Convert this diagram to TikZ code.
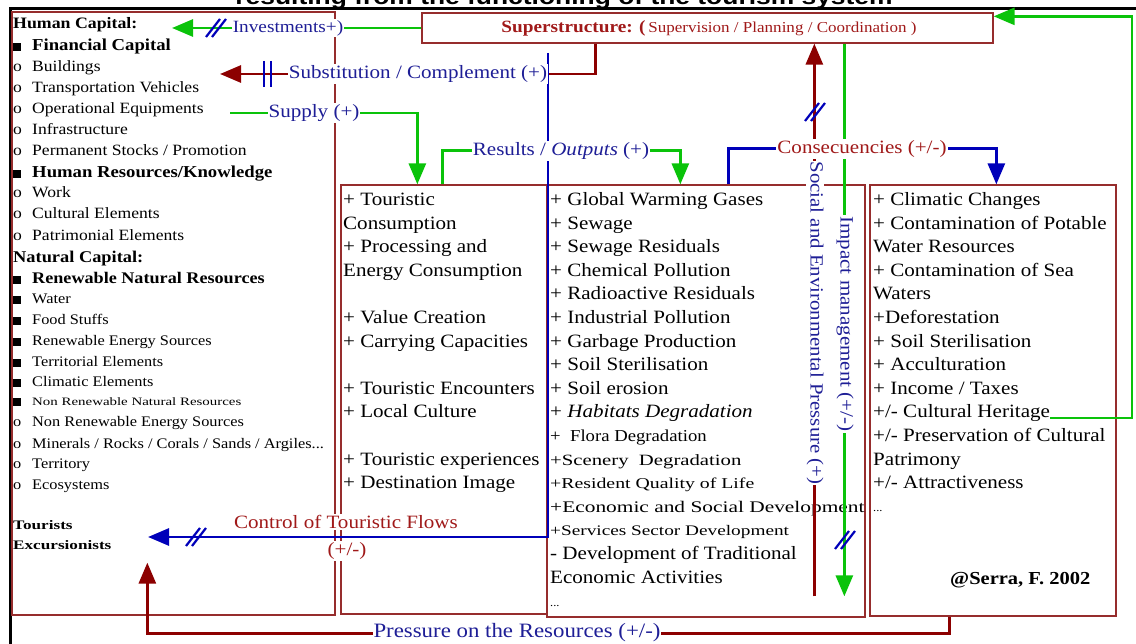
\documentclass[tikz,border=0pt]{standalone}
\usepackage{fontspec}
\setmainfont[FakeStretch=1.12]{Liberation Serif}
\newfontfamily\condfont[FakeStretch=1.32]{Liberation Serif}
\newfontfamily\titlefont[FakeStretch=1.2]{Liberation Sans}
\usetikzlibrary{arrows.meta,calc}
\definecolor{boxred}{RGB}{150,45,45}
\definecolor{lred}{RGB}{140,0,0}
\definecolor{tred}{RGB}{160,25,25}
\definecolor{lgreen}{RGB}{10,195,10}
\definecolor{lblue}{RGB}{0,0,185}
\definecolor{tblue}{RGB}{30,30,150}
\newcommand\fsz[1]{\fontsize{#1}{#1}\selectfont}
\newcommand\sqb{\makebox[19pt][l]{\rule{7.5pt}{7.5pt}}}
\newcommand\ob{\makebox[19pt][l]{o}}
\newcommand\dsl[1]{%
  \draw[sl] ($(#1)+(-10,9)$) -- ($(#1)+(4,-9)$);
  \draw[sl] ($(#1)+(-4,9)$) -- ($(#1)+(10,-9)$);}
\begin{document}
\begin{tikzpicture}[x=1pt,y=-1pt,
  box/.style={draw=boxred,line width=1.3pt,inner sep=0pt},
  li/.style={anchor=base west,inner sep=0pt,font=\fsz{15.7}},
  lin/.style={anchor=base west,inner sep=0pt,font=\fsz{14.6}},
  lt/.style={anchor=base west,inner sep=0pt,font=\fsz{18.8}},
  conn/.style={line width=2.8pt},
  mytip/.style={-{Triangle[length=21pt,width=17pt]}},
  gar/.style={conn,draw=lgreen,mytip},
  rar/.style={conn,draw=lred,mytip},
  bar/.style={conn,draw=lblue,mytip},
  sl/.style={draw=lblue,line width=2.2pt},
  lab/.style={fill=white,inner sep=1pt,text=tblue,font=\fsz{18.8}},
]
\useasboundingbox (0,0) rectangle (1136,644);
% title and frame
\node[font=\titlefont\bfseries\fsz{22},anchor=base,inner sep=0pt] (title) at (564,5) {resulting from the functioning of the tourism system};
\coordinate (fr1) at (1136,8.5);
\coordinate (fr2) at (10.5,8.5);
\coordinate (fr3) at (10.5,644);
\draw[line width=3pt] (fr1) -- (fr2) -- (fr3);

% boxes
\node[box,minimum width=323pt,minimum height=603pt] (lbox) at (173.5,313.5) {};
\node[box,minimum width=571pt,minimum height=30pt] (super) at (707.5,28) {};
\node[box,minimum width=206pt,minimum height=429pt] (tbox) at (444,399.5) {};
\node[box,minimum width=318pt,minimum height=432pt] (mbox) at (706,401) {};
\node[box,minimum width=246pt,minimum height=431pt] (rbox) at (993,400.5) {};

\node[text=tred,inner sep=0pt] (suptxt) at (709,28) {{\bfseries\fsz{17.2}Superstructure: (} {\fsz{15.2}Supervision / Planning / Coordination )}};

% left column
\node[li] (l1) at (13,29) {\bfseries\fsz{15.9}Human Capital:};
\node[li] (l2) at (13,51) {\sqb\bfseries\fsz{16.7}Financial Capital};
\node[li] (l3) at (13,72) {\ob Buildings};
\node[li] (l4) at (13,93) {\ob Transportation Vehicles};
\node[li] (l5) at (13,114) {\ob Operational Equipments};
\node[li] (l6) at (13,135) {\ob Infrastructure};
\node[li] (l7) at (13,156) {\ob Permanent Stocks / Promotion};
\node[li] (l8) at (13,178) {\sqb\bfseries\fsz{16.7}Human Resources/Knowledge};
\node[li] (l9) at (13,198) {\ob Work};
\node[li] (l10) at (13,219) {\ob Cultural Elements};
\node[li] (l11) at (13,241) {\ob Patrimonial Elements};
\node[li] (l12) at (13,263) {\bfseries\fsz{16.4}Natural Capital:};
\node[li] (l13) at (13,284) {\sqb\bfseries\fsz{16.2}Renewable Natural Resources};
\node[lin] (l14) at (13,304) {\sqb Water};
\node[lin] (l15) at (13,325) {\sqb Food Stuffs};
\node[lin] (l16) at (13,346) {\sqb Renewable Energy Sources};
\node[lin] (l17) at (13,367) {\sqb Territorial Elements};
\node[lin] (l18) at (13,387) {\sqb Climatic Elements};
\node[lin] (l19) at (13,406) {\sqb{\condfont\fsz{11.3}Non Renewable Natural Resources}};
\node[lin] (l20) at (13,426) {\ob Non Renewable Energy Sources};
\node[lin] (l21) at (13,448) {\ob Minerals / Rocks / Corals / Sands / Argiles...};
\node[lin] (l22) at (13,468) {\ob Territory};
\node[lin] (l23) at (13,489) {\ob Ecosystems};
\node[li] (l24) at (13,529) {\condfont\bfseries\fsz{13}Tourists};
\node[li] (l25) at (13,549) {\condfont\bfseries\fsz{13}Excursionists};

% touristic box
\node[lt] (t1) at (343,205.5) {+ Touristic};
\node[lt] (t2) at (343,229.1) {Consumption};
\node[lt] (t3) at (343,252.7) {+ Processing and};
\node[lt] (t4) at (343,276.3) {Energy Consumption};
\node[lt] (t5) at (343,323.5) {+ Value Creation};
\node[lt] (t6) at (343,347.1) {+ Carrying Capacities};
\node[lt] (t7) at (343,394.3) {+ Touristic Encounters};
\node[lt] (t8) at (343,417.9) {+ Local Culture};
\node[lt] (t9) at (343,465.1) {+ Touristic experiences};
\node[lt] (t10) at (343,488.7) {+ Destination Image};

% middle box
\node[lt] (m1) at (550,205.5) {+ Global Warming Gases};
\node[lt] (m2) at (550,229.1) {+ Sewage};
\node[lt] (m3) at (550,252.7) {+ Sewage Residuals};
\node[lt] (m4) at (550,276.3) {+ Chemical Pollution};
\node[lt] (m5) at (550,299.9) {+ Radioactive Residuals};
\node[lt] (m6) at (550,323.5) {+ Industrial Pollution};
\node[lt] (m7) at (550,347.1) {+ Garbage Production};
\node[lt] (m8) at (550,370.7) {+ Soil Sterilisation};
\node[lt] (m9) at (550,394.3) {+ Soil erosion};
\node[lt] (m10) at (550,417.9) {+ \textit{Habitats Degradation}};
\node[lt] (m11) at (550,441.5) {\fsz{16.7}+ \ Flora Degradation};
\node[lt] (m12) at (550,465.1) {\condfont\fsz{15.7}+Scenery \ Degradation};
\node[lt] (m13) at (550,488.7) {\condfont\fsz{15}+Resident Quality of Life};
\node[lt] (m14) at (550,512.3) {\condfont\fsz{16.2}+Economic and Social Development};
\node[lt] (m15) at (550,535.9) {\condfont\fsz{14.6}+Services Sector Development};
\node[lt] (m16) at (550,559.5) {- Development of Traditional};
\node[lt] (m17) at (550,583.1) {Economic Activities};
\node[lt] (m18) at (550,606.7) {\fsz{11}...};

% right box
\node[lt] (r1) at (873,205.5) {+ Climatic Changes};
\node[lt] (r2) at (873,229.1) {+ Contamination of Potable};
\node[lt] (r3) at (873,252.7) {Water Resources};
\node[lt] (r4) at (873,276.3) {+ Contamination of Sea};
\node[lt] (r5) at (873,299.9) {Waters};
\node[lt] (r6) at (873,323.5) {+Deforestation};
\node[lt] (r7) at (873,347.1) {+ Soil Sterilisation};
\node[lt] (r8) at (873,370.7) {+ Acculturation};
\node[lt] (r9) at (873,394.3) {+ Income / Taxes};
\node[lt] (r10) at (873,417.9) {+/- Cultural Heritage};
\node[lt] (r11) at (873,441.5) {+/- Preservation of Cultural};
\node[lt] (r12) at (873,465.1) {Patrimony};
\node[lt] (r13) at (873,488.7) {+/- Attractiveness};
\node[lt] (r14) at (873,511) {\fsz{11}...};
\node[lt] (serra) at (950,584) {\bfseries\fsz{18.3}@Serra, F. 2002};

% connectors
\coordinate (invtip) at (172,28);
\draw[gar] (super.west) -- (invtip);
\coordinate (subtip) at (220,74);
\draw[rar] ($(super.south west)+(174,0)$) |- (subtip);
\coordinate (btop) at (548,53);
\coordinate (ctrltip) at (148,537);
\draw[bar] (btop) |- (ctrltip);
\coordinate (supstart) at (230,113);
\draw[gar] (supstart) -| ($(tbox.north west)+(77,0)$);
\draw[gar] ($(tbox.north west)+(102,0)$) -- ++(0,-34) -| ($(mbox.north west)+(134,0)$);
\draw[bar] ($(mbox.north west)+(182,0)$) -- ++(0,-36) -| ($(rbox.north west)+(127,0)$);
\draw[rar] ($(mbox.north west)+(268,412)$) -- ($(super.south west)+(393,0)$);
\draw[gar] ($(super.south west)+(423,0)$) -- ($(mbox.north west)+(298,412)$);
\coordinate (chend) at (1050,418);
\draw[gar] (chend) -- ++(82,0) |- ($(super.north east)+(0,4)$);
\draw[rar] ($(rbox.south west)+(80,0)$) -- ++(0,17) -| ($(lbox.south west)+(136,-53)$);

% double slashes
\coordinate (s1) at (216,28);
\coordinate (s3) at (196,537);
\coordinate (s4) at (815,112);
\coordinate (s5) at (845,540);
\dsl{s1}
\dsl{s3}
\dsl{s4}
\dsl{s5}
\coordinate (b1) at (264,74);
\coordinate (b2) at (271,74);
\draw[sl] ($(b1)+(0,-13)$) -- ($(b1)+(0,13)$);
\draw[sl] ($(b2)+(0,-13)$) -- ($(b2)+(0,13)$);

% labels
\node[lab,font=\fsz{17.2}] (inv) at (288,28) {Investments+)};
\node[lab] (sub) at (418,74) {Substitution / Complement (+)};
\node[lab] (sup) at (314,113) {Supply (+)};
\node[lab] (res) at (561,151) {Results / \textit{Outputs} (+)};
\node[lab,text=tred] (cons) at (862,149) {Consecuencies (+/-)};
\node[lab,text=tred] (ctrl) at (346,522) {Control of Touristic Flows};
\node[lab,text=tred] (ctrl2) at (347,551) {(+/-)};
\node[lab,font=\fsz{20.4}] (pres) at (517,633) {Pressure on the Resources (+/-)};
\node[lab,rotate=-90,font=\fsz{18.6}] (soc) at (815,323) {Social and Environmental Pressure (+)};
\node[lab,rotate=-90] (imp) at (845,324) {Impact management (+/-)};
\end{tikzpicture}
\end{document}
